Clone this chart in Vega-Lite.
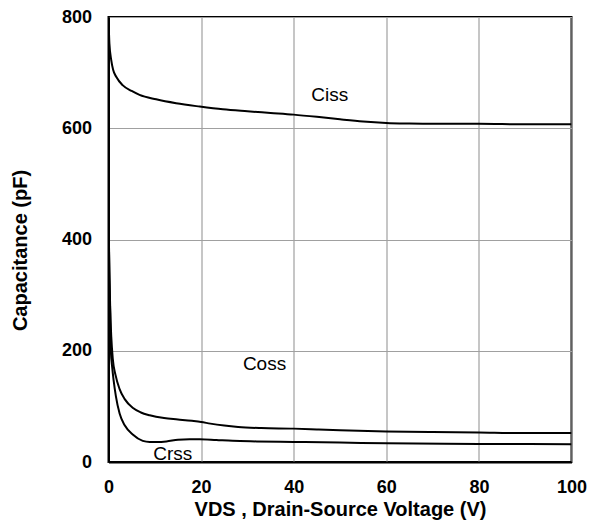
{
  "$schema": "https://vega.github.io/schema/vega-lite/v6.json",
  "width": 463,
  "height": 445,
  "autosize": {"type": "none"},
  "padding": {"left": 108.5, "top": 17, "right": 19, "bottom": 59},
  "background": "white",
  "config": {
    "font": "Liberation Sans",
    "view": {"stroke": "black", "strokeWidth": 2},
    "axis": {
      "labelFont": "Liberation Sans",
      "labelFontSize": 18,
      "labelFontWeight": "bold",
      "labelColor": "black",
      "labelFlush": false,
      "titleFont": "Liberation Sans",
      "titleFontSize": 20,
      "titleFontWeight": "bold",
      "titleColor": "black",
      "ticks": false,
      "domainColor": "black",
      "domainWidth": 2,
      "gridColor": "#a0a0a0",
      "gridWidth": 1.2,
      "gridOpacity": 1
    }
  },
  "datasets": {
    "curves": [
      {"series": "Ciss", "vds": 0, "cap": 800},
      {"series": "Ciss", "vds": 0.2, "cap": 752},
      {"series": "Ciss", "vds": 0.6, "cap": 722},
      {"series": "Ciss", "vds": 1.0, "cap": 705},
      {"series": "Ciss", "vds": 1.7, "cap": 692},
      {"series": "Ciss", "vds": 3.1, "cap": 677},
      {"series": "Ciss", "vds": 5, "cap": 667},
      {"series": "Ciss", "vds": 6.7, "cap": 660},
      {"series": "Ciss", "vds": 10.3, "cap": 652},
      {"series": "Ciss", "vds": 14.6, "cap": 645},
      {"series": "Ciss", "vds": 19.7, "cap": 639},
      {"series": "Ciss", "vds": 24.7, "cap": 634},
      {"series": "Ciss", "vds": 30, "cap": 630.5},
      {"series": "Ciss", "vds": 35, "cap": 627.5},
      {"series": "Ciss", "vds": 40, "cap": 624.5},
      {"series": "Ciss", "vds": 45, "cap": 620.5},
      {"series": "Ciss", "vds": 50, "cap": 616},
      {"series": "Ciss", "vds": 55, "cap": 612},
      {"series": "Ciss", "vds": 60, "cap": 609.5},
      {"series": "Ciss", "vds": 65, "cap": 608.5},
      {"series": "Ciss", "vds": 70, "cap": 608},
      {"series": "Ciss", "vds": 80, "cap": 608},
      {"series": "Ciss", "vds": 90, "cap": 607},
      {"series": "Ciss", "vds": 100, "cap": 607},
      {"series": "Coss", "vds": 0, "cap": 445},
      {"series": "Coss", "vds": 0.2, "cap": 340},
      {"series": "Coss", "vds": 0.37, "cap": 275},
      {"series": "Coss", "vds": 0.6, "cap": 225},
      {"series": "Coss", "vds": 0.93, "cap": 185},
      {"series": "Coss", "vds": 1.5, "cap": 157},
      {"series": "Coss", "vds": 2.4, "cap": 131},
      {"series": "Coss", "vds": 3.5, "cap": 113},
      {"series": "Coss", "vds": 5.3, "cap": 97},
      {"series": "Coss", "vds": 7, "cap": 89},
      {"series": "Coss", "vds": 8.9, "cap": 84},
      {"series": "Coss", "vds": 12, "cap": 79},
      {"series": "Coss", "vds": 15, "cap": 76.5},
      {"series": "Coss", "vds": 18, "cap": 74},
      {"series": "Coss", "vds": 20, "cap": 72},
      {"series": "Coss", "vds": 22, "cap": 69},
      {"series": "Coss", "vds": 25, "cap": 65.5},
      {"series": "Coss", "vds": 28, "cap": 63},
      {"series": "Coss", "vds": 33, "cap": 61},
      {"series": "Coss", "vds": 40, "cap": 60},
      {"series": "Coss", "vds": 45, "cap": 58.5},
      {"series": "Coss", "vds": 50, "cap": 57},
      {"series": "Coss", "vds": 60, "cap": 55},
      {"series": "Coss", "vds": 70, "cap": 54},
      {"series": "Coss", "vds": 80, "cap": 53},
      {"series": "Coss", "vds": 90, "cap": 52},
      {"series": "Coss", "vds": 100, "cap": 52},
      {"series": "Crss", "vds": 0, "cap": 445},
      {"series": "Crss", "vds": 0.2, "cap": 330},
      {"series": "Crss", "vds": 0.37, "cap": 268},
      {"series": "Crss", "vds": 0.5, "cap": 201},
      {"series": "Crss", "vds": 0.8, "cap": 170},
      {"series": "Crss", "vds": 1.1, "cap": 147},
      {"series": "Crss", "vds": 1.6, "cap": 118},
      {"series": "Crss", "vds": 2.4, "cap": 87},
      {"series": "Crss", "vds": 3.5, "cap": 66},
      {"series": "Crss", "vds": 5.3, "cap": 49},
      {"series": "Crss", "vds": 7.4, "cap": 38},
      {"series": "Crss", "vds": 8.9, "cap": 36},
      {"series": "Crss", "vds": 10.5, "cap": 36},
      {"series": "Crss", "vds": 12.5, "cap": 37},
      {"series": "Crss", "vds": 15, "cap": 40},
      {"series": "Crss", "vds": 17.5, "cap": 41},
      {"series": "Crss", "vds": 19.7, "cap": 41},
      {"series": "Crss", "vds": 23.3, "cap": 39.5},
      {"series": "Crss", "vds": 26.8, "cap": 38},
      {"series": "Crss", "vds": 32, "cap": 37},
      {"series": "Crss", "vds": 40, "cap": 36},
      {"series": "Crss", "vds": 50, "cap": 35},
      {"series": "Crss", "vds": 60, "cap": 33.5},
      {"series": "Crss", "vds": 80, "cap": 32.5},
      {"series": "Crss", "vds": 100, "cap": 32}
    ],
    "labels": [
      {"name": "Ciss", "vds": 47.8, "cap": 660},
      {"name": "Coss", "vds": 33.7, "cap": 177},
      {"name": "Crss", "vds": 13.9, "cap": 14}
    ]
  },
  "encoding": {
    "x": {
      "field": "vds",
      "type": "quantitative",
      "scale": {"domain": [0, 100], "nice": false, "zero": false},
      "axis": {
        "values": [0, 20, 40, 60, 80, 100],
        "labelPadding": 16,
        "title": "VDS , Drain-Source Voltage (V)",
        "titleY": 53,
        "titleBaseline": "alphabetic"
      }
    },
    "y": {
      "field": "cap",
      "type": "quantitative",
      "scale": {"domain": [0, 800], "nice": false},
      "axis": {
        "values": [0, 200, 400, 600, 800],
        "labelPadding": 17,
        "title": "Capacitance (pF)",
        "titleX": -82,
        "titleY": 233,
        "titleAngle": -90,
        "titleBaseline": "alphabetic"
      }
    }
  },
  "layer": [
    {
      "data": {"name": "curves"},
      "mark": {"type": "line", "color": "black", "strokeWidth": 2, "interpolate": "monotone", "clip": true},
      "encoding": {"detail": {"field": "series", "type": "nominal"}}
    },
    {
      "data": {"name": "labels"},
      "mark": {"type": "text", "font": "Liberation Sans", "fontSize": 19, "color": "black", "align": "center", "baseline": "middle"},
      "encoding": {"text": {"field": "name", "type": "nominal"}}
    }
  ]
}
